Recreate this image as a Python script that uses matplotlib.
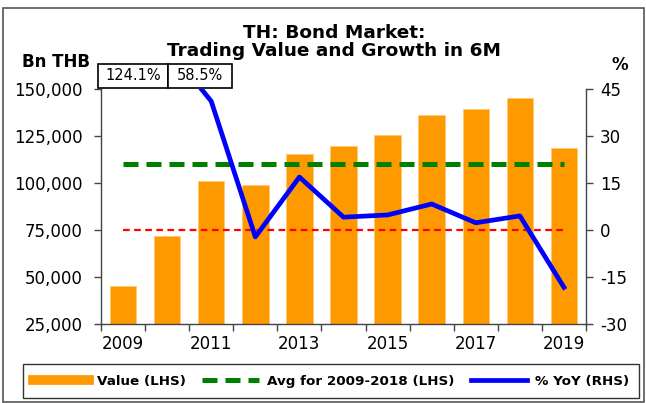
import numpy as np
import matplotlib.pyplot as plt
import matplotlib.patches as mpatches
from matplotlib.lines import Line2D
from matplotlib.ticker import FuncFormatter

plt.rcParams['font.family'] = ['DejaVu Sans']
plt.rcParams['axes.unicode_minus'] = False

# Data
years = [2009, 2010, 2011, 2012, 2013, 2014, 2015, 2016, 2017, 2018, 2019]
value_bn = [45000, 71800, 101200, 98900, 115400, 119700, 125500, 136200, 139200, 145100, 118800]
avg_2009_2018 = [109900] * 11
yoy_pct = [124.1, 58.5, 41.1, -2.2, 16.9, 4.1, 4.8, 8.3, 2.3, 4.5, -18.3]
zero_line = [75000] * 11
off_scale_labels = ['124.1%', '58.5%']

W, H = 646, 403
fig = plt.figure(figsize=(W / 100, H / 100), dpi=100)

# outer frame
fig.patches.append(mpatches.Rectangle((3 / W, 1 / H), 641 / W, 1 - 9 / H, transform=fig.transFigure,
                                      fill=False, edgecolor='#555555', linewidth=1.2))

ax = fig.add_axes([101 / W, 1 - 324 / H, 485 / W, 235 / H])
ax2 = ax.twinx()

x = np.arange(len(years))
ax.bar(x, value_bn, width=0.6, color='#FF9900', edgecolor='#FFC870', linewidth=0.6, zorder=2)
ax.plot(x, avg_2009_2018, color='#008000', linestyle=(0, (3, 1.6)), linewidth=3.6, zorder=3)
ax.plot(x, zero_line, color='red', linestyle=(0, (3, 2)), linewidth=1.6, zorder=3)
ax2.plot(x, yoy_pct, color='blue', linewidth=3.4, zorder=4, clip_on=True)

ax.set_xlim(-0.5, 10.5)
ax.set_ylim(25000, 150000)
ax2.set_ylim(-30, 45)
ax.set_yticks(np.arange(25000, 150001, 25000))
ax2.set_yticks(np.arange(-30, 46, 15))
ax.yaxis.set_major_formatter(FuncFormatter(lambda v, p: f'{int(v):,}'))

ax.set_xticks(x[::2])
ax.set_xticklabels([str(y) for y in years[::2]])
ax.set_xticks(np.arange(-0.5, 11, 1), minor=True)
ax.tick_params(axis='x', which='major', length=0, labelsize=12, pad=8)
ax.tick_params(axis='x', which='minor', length=5, width=1, color='#444444', direction='out')
ax.tick_params(axis='y', length=5, width=1, color='#444444', labelsize=12, pad=8)
ax2.tick_params(axis='y', length=5, width=1, color='#444444', labelsize=12, pad=5)

ax.set_zorder(ax2.get_zorder() - 1)
ax.patch.set_visible(True)
ax2.patch.set_visible(False)
for a in (ax, ax2):
    a.spines['top'].set_visible(False)
    for s in ('left', 'right', 'bottom'):
        a.spines[s].set_color('#444444')
        a.spines[s].set_linewidth(1)
ax.spines['right'].set_visible(False)
ax2.spines['left'].set_visible(False)
ax2.spines['bottom'].set_visible(False)

fig.text(334 / W, 1 - 42 / H, 'TH: Bond Market:\nTrading Value and Growth in 6M', ha='center', va='center',
         fontsize=13.3, fontweight='bold', linespacing=1.05)
fig.text(56 / W, 1 - 62 / H, 'Bn THB', ha='center', va='center', fontsize=12, fontweight='bold')
fig.text(620 / W, 1 - 65 / H, '%', ha='center', va='center', fontsize=12, fontweight='bold')

# boxes for values that run off the right scale
box_edges = [98, 168, 232]
for i, lab in enumerate(off_scale_labels):
    x0, x1 = box_edges[i], box_edges[i + 1]
    fig.patches.append(mpatches.Rectangle((x0 / W, 1 - 88 / H), (x1 - x0) / W, 24 / H,
                                          transform=fig.transFigure, facecolor='white',
                                          edgecolor='black', linewidth=1.2, zorder=5))
    fig.text((x0 + x1) / 2 / W, 1 - 76 / H, lab, ha='center', va='center', fontsize=10.5, zorder=6)

handles = [Line2D([], [], color='#FF9900', linewidth=7),
           Line2D([], [], color='#008000', linestyle=(0, (3, 1.6)), linewidth=3.6),
           Line2D([], [], color='blue', linewidth=3.4)]
labels = ['Value (LHS)', 'Avg for 2009-2018 (LHS)', '% YoY (RHS)']
leg = fig.legend(handles, labels, loc='center', bbox_to_anchor=(331 / W, 1 - 381 / H), ncol=3,
                 frameon=True, fancybox=False, edgecolor='black',
                 prop={'weight': 'bold', 'size': 9.7}, handlelength=4.2, columnspacing=1.2,
                 handletextpad=0.6, borderpad=0.75)
leg.get_frame().set_linewidth(1)

fig.savefig('out.png', dpi=100)
